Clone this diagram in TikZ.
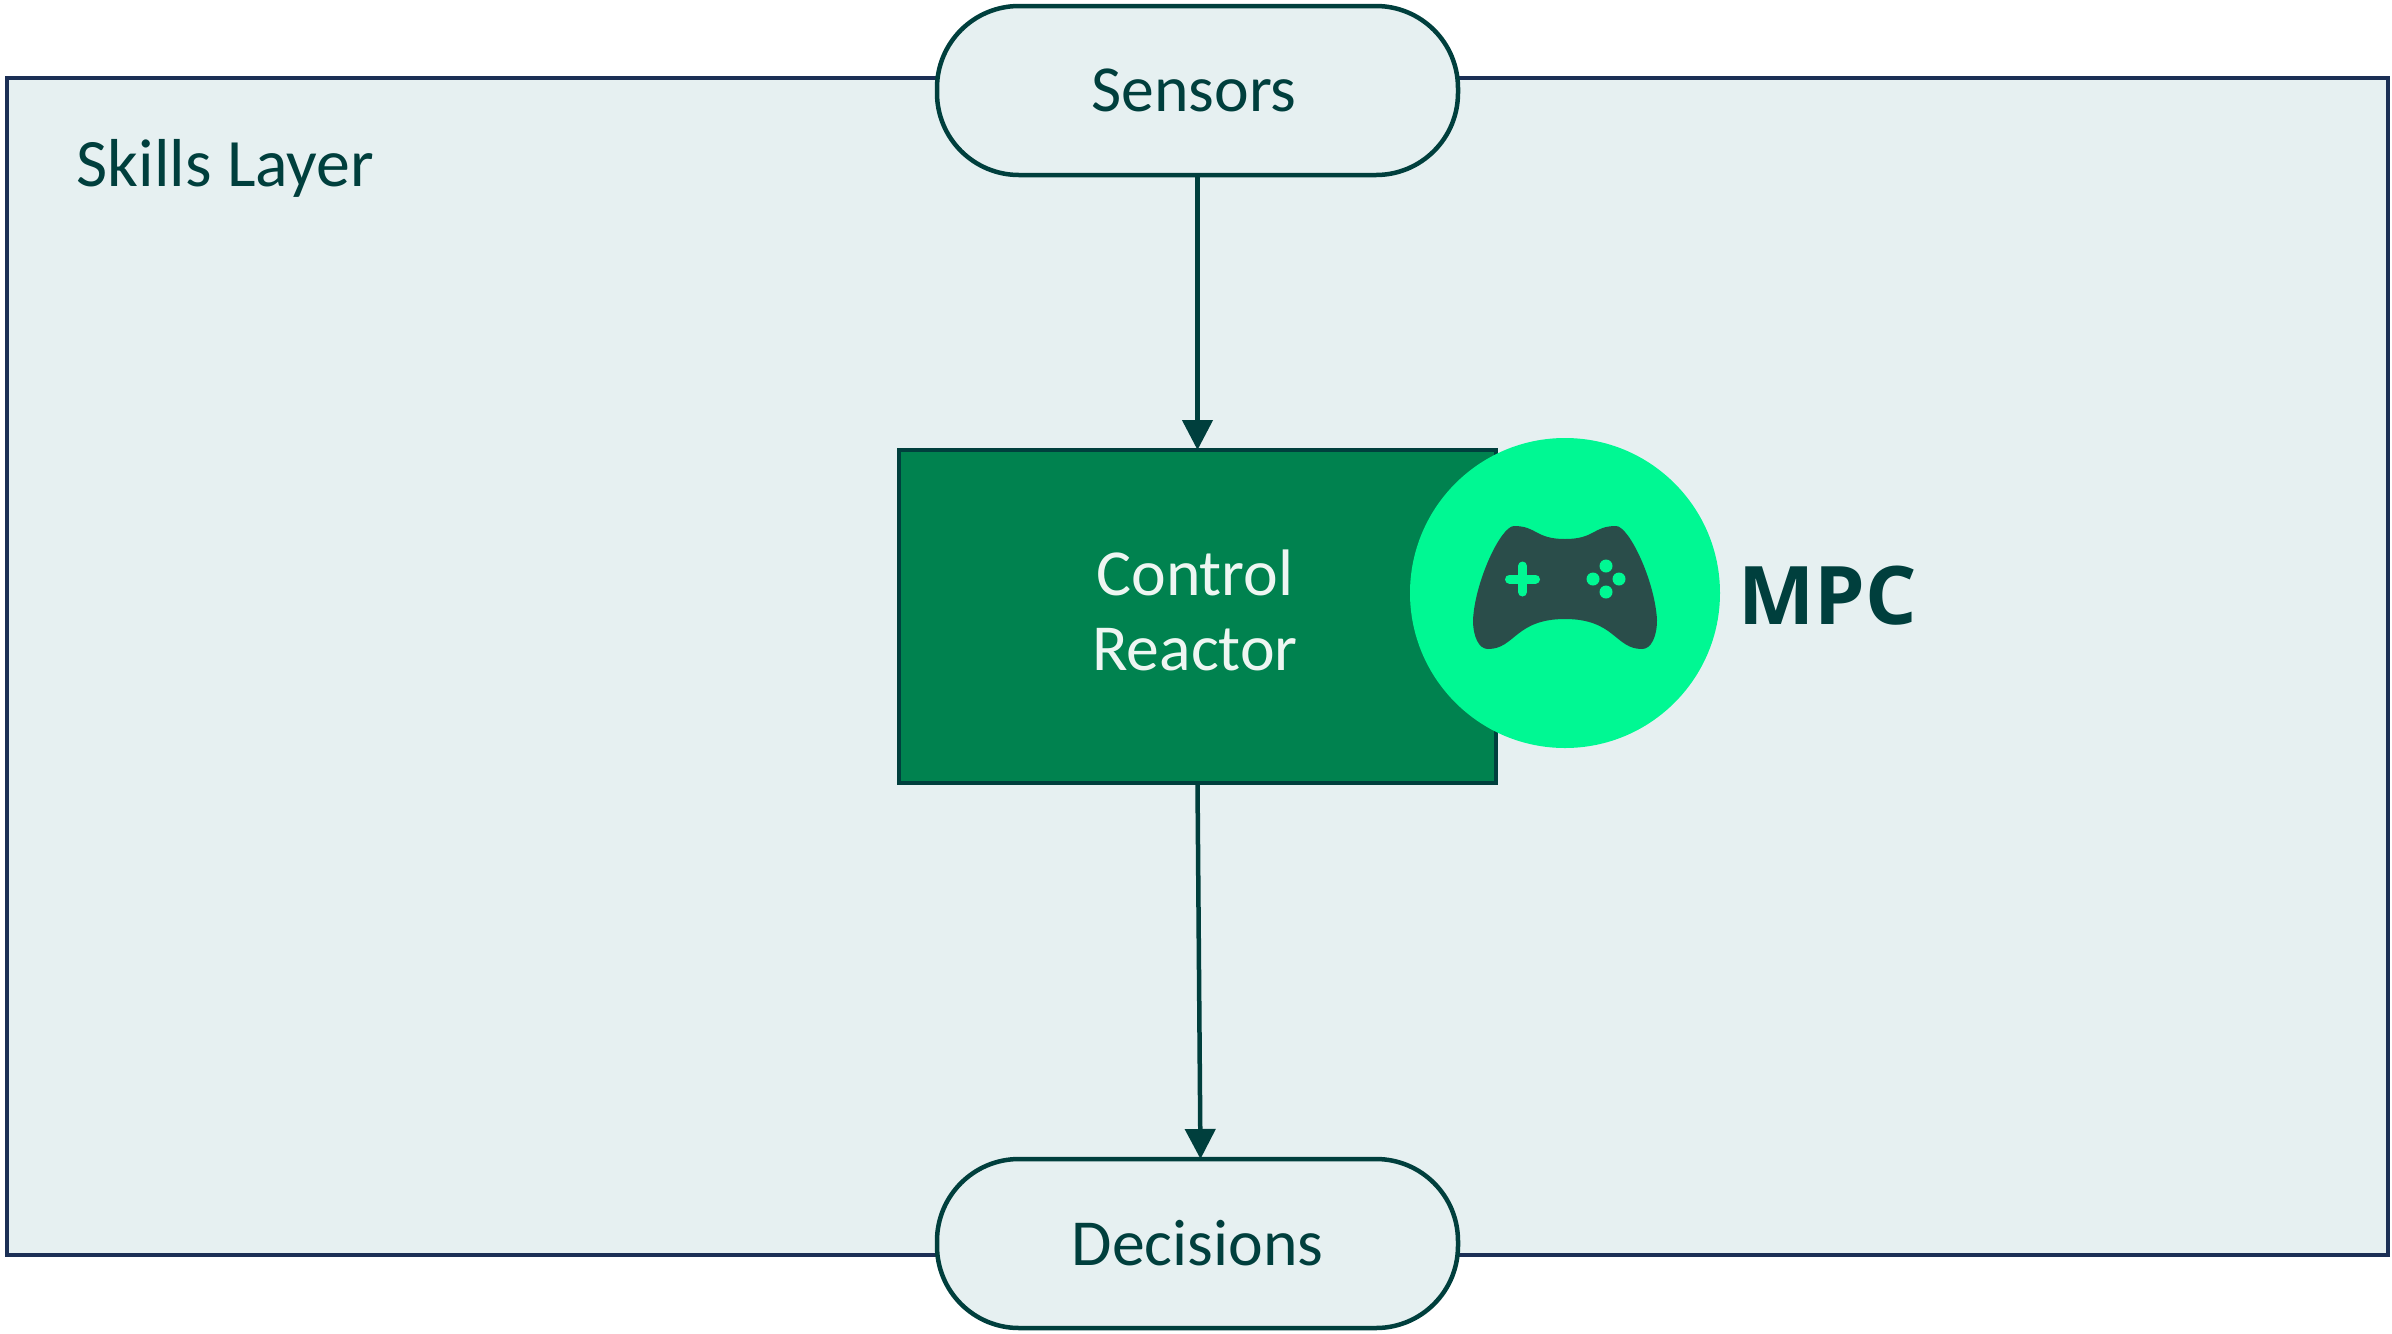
\documentclass[tikz,border=0pt]{standalone}
\usepackage{fontspec}
\setmainfont{Carlito}
\newfontfamily\mpcfont{Open Sans}
\usepackage{xcolor}
\usetikzlibrary{arrows.meta,positioning}
\definecolor{skpale}{HTML}{E6F0F1}
\definecolor{skteal}{HTML}{003F3D}
\definecolor{sknavy}{HTML}{1B2F55}
\definecolor{skgreen}{HTML}{00824F}
\definecolor{skmint}{HTML}{00F893}
\definecolor{skslate}{HTML}{2A4D4A}
\definecolor{sksnow}{HTML}{EEF6F2}

\begin{document}
\begin{tikzpicture}[
  font=\fontsize{18.7}{21.3}\selectfont,
  layerbox/.style={draw=sknavy,line width=0.045cm,fill=skpale,outer sep=0pt,
                   minimum width=23.81cm,minimum height=11.77cm},
  pill/.style={draw=skteal,line width=0.045cm,fill=skpale,rounded corners=0.82cm,
               outer sep=0pt,text=skteal,minimum width=5.21cm,minimum height=1.69cm},
  reactor/.style={draw=skteal,line width=0.045cm,fill=skgreen,outer sep=0pt,
                  text=sksnow,align=center,text depth=0.12cm,
                  minimum width=5.97cm,minimum height=3.33cm},
  disc/.style={circle,fill=skmint,minimum size=3.1cm,inner sep=0pt,outer sep=0pt},
  arr/.style={-{Triangle[length=3mm,width=3mm]},line width=0.045cm,draw=skteal},
]
\useasboundingbox (0,0) rectangle (23.92,-13.33);
\node[layerbox,anchor=north west] (layer) at (0.07,-0.78) {};
\node[anchor=base west,text=skteal,inner sep=0pt,
      font=\fontsize{19.3}{22}\selectfont] (title) at (0.76,-1.86) {Skills Layer};
\node[pill] (sensors) at (11.975,-0.905) {Sensors\kern0.07cm};
\node[reactor,below=2.75cm of sensors] (control) {Control\kern0.05cm\\Reactor\kern0.05cm};
\node[pill,below=3.76cm of control] (decisions) {Decisions};
\node[disc] (mpc) at (15.65,-5.93) {};
\node[right=0.18cm of mpc,inner sep=0pt,text=skteal,yshift=-0.03cm,
      font=\mpcfont\bfseries\fontsize{23}{26}\selectfont] (mpclabel) {MPC};
\draw[arr] (sensors.south) -- (control.north);
\draw[arr] (control.south) -- ([xshift=0.03cm]decisions.north);
% game pad
\begin{scope}[shift={(mpc.center)}]
\fill[skslate] (-0.51,0.67) .. controls (-0.28,0.67) and (-0.30,0.54) .. (0,0.54)
  .. controls (0.30,0.54) and (0.28,0.67) .. (0.51,0.67)
  .. controls (0.64,0.67) and (0.90,0.12) .. (0.92,-0.27)
  .. controls (0.92,-0.44) and (0.86,-0.56) .. (0.77,-0.56)
  .. controls (0.50,-0.56) and (0.50,-0.26) .. (0,-0.26)
  .. controls (-0.50,-0.26) and (-0.50,-0.56) .. (-0.77,-0.56)
  .. controls (-0.86,-0.56) and (-0.92,-0.44) .. (-0.92,-0.27)
  .. controls (-0.90,0.12) and (-0.64,0.67) .. (-0.51,0.67) -- cycle;
\draw[skmint,line width=0.09cm,line cap=round] (-0.555,0.14) -- (-0.295,0.14);
\draw[skmint,line width=0.09cm,line cap=round] (-0.425,0.27) -- (-0.425,0.01);
\foreach \bx/\by in {0.41/0.27,0.41/0.01,0.28/0.14,0.54/0.14}
  \fill[skmint] (\bx,\by) circle (0.065);
\end{scope}
\end{tikzpicture}
\end{document}
